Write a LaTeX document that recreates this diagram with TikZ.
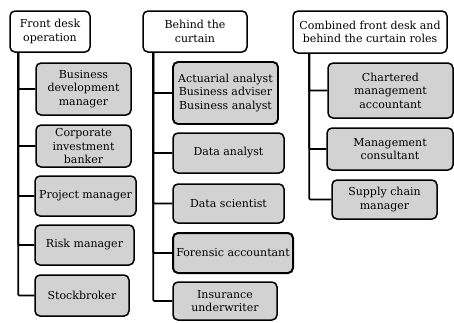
\documentclass[tikz,border=0pt]{standalone}
\usepackage{fontspec}
\setmainfont{DejaVu Serif}
\begin{document}
\begin{tikzpicture}[x=1pt,y=1pt,
  every node/.style={draw=black,line width=1.5pt,rounded corners=5pt,align=center,
    inner sep=0pt,font=\fontsize{11}{13.5}\selectfont},
  head/.style={fill=white},
  role/.style={fill=gray!35},
  conn/.style={line width=1.7pt,rounded corners=1pt}]
  \useasboundingbox (0,0) rectangle (454,-322);

  % Primera columna: de cara al cliente
  \node[head,minimum width=80,minimum height=41] (h1) at (50,-31.5) {Front desk\\operation};
  \node[role,minimum width=95,minimum height=52] (a1) at (83.5,-89) {Business\\development\\manager};
  \node[role,minimum width=95,minimum height=42] (a2) at (83.5,-146) {Corporate\\investment\\banker};
  \node[role,minimum width=101,minimum height=40] (a3) at (85.5,-196) {Project manager};
  \node[role,minimum width=99,minimum height=40] (a4) at (84.5,-245) {Risk manager};
  \node[role,minimum width=94,minimum height=41] (a5) at (82,-295.5) {Stockbroker};

  % Segunda columna: tras la cortina
  \node[head,minimum width=104,minimum height=41] (h2) at (195,-31.5) {Behind the\\curtain};
  \node[role,line width=1.9pt,minimum width=105,minimum height=62] (b1) at (225.5,-93) {Actuarial analyst\\Business adviser\\Business analyst};
  \node[role,minimum width=111,minimum height=40] (b2) at (228.5,-153) {Data analyst};
  \node[role,minimum width=111,minimum height=39] (b3) at (228.5,-203.5) {Data scientist};
  \node[role,line width=2pt,minimum width=120,minimum height=40] (b4) at (233,-253) {Forensic accountant};
  \node[role,minimum width=104,minimum height=38] (b5) at (225,-301) {Insurance\\underwriter};

  % Tercera columna: roles combinados
  \node[head,minimum width=154,minimum height=42] (h3) at (370,-32) {Combined front desk and\\behind the curtain roles};
  \node[role,minimum width=125,minimum height=55] (c1) at (390.5,-90.5) {Chartered\\management\\accountant};
  \node[role,minimum width=126,minimum height=42] (c2) at (390,-149) {Management\\consultant};
  \node[role,minimum width=105,minimum height=39] (c3) at (384.5,-199.5) {Supply chain\\manager};

  % Conectores desde cada cabecera
  \foreach \to in {a1,a2,a3,a4,a5}
    \draw[conn] ([xshift=9pt]h1.south west) |- (\to.west);
  \foreach \to in {b1,b2,b3,b4,b5}
    \draw[conn] ([xshift=11pt]h2.south west) |- (\to.west);
  \foreach \to in {c1,c2,c3}
    \draw[conn] ([xshift=17pt]h3.south west) |- (\to.west);
\end{tikzpicture}
\end{document}
